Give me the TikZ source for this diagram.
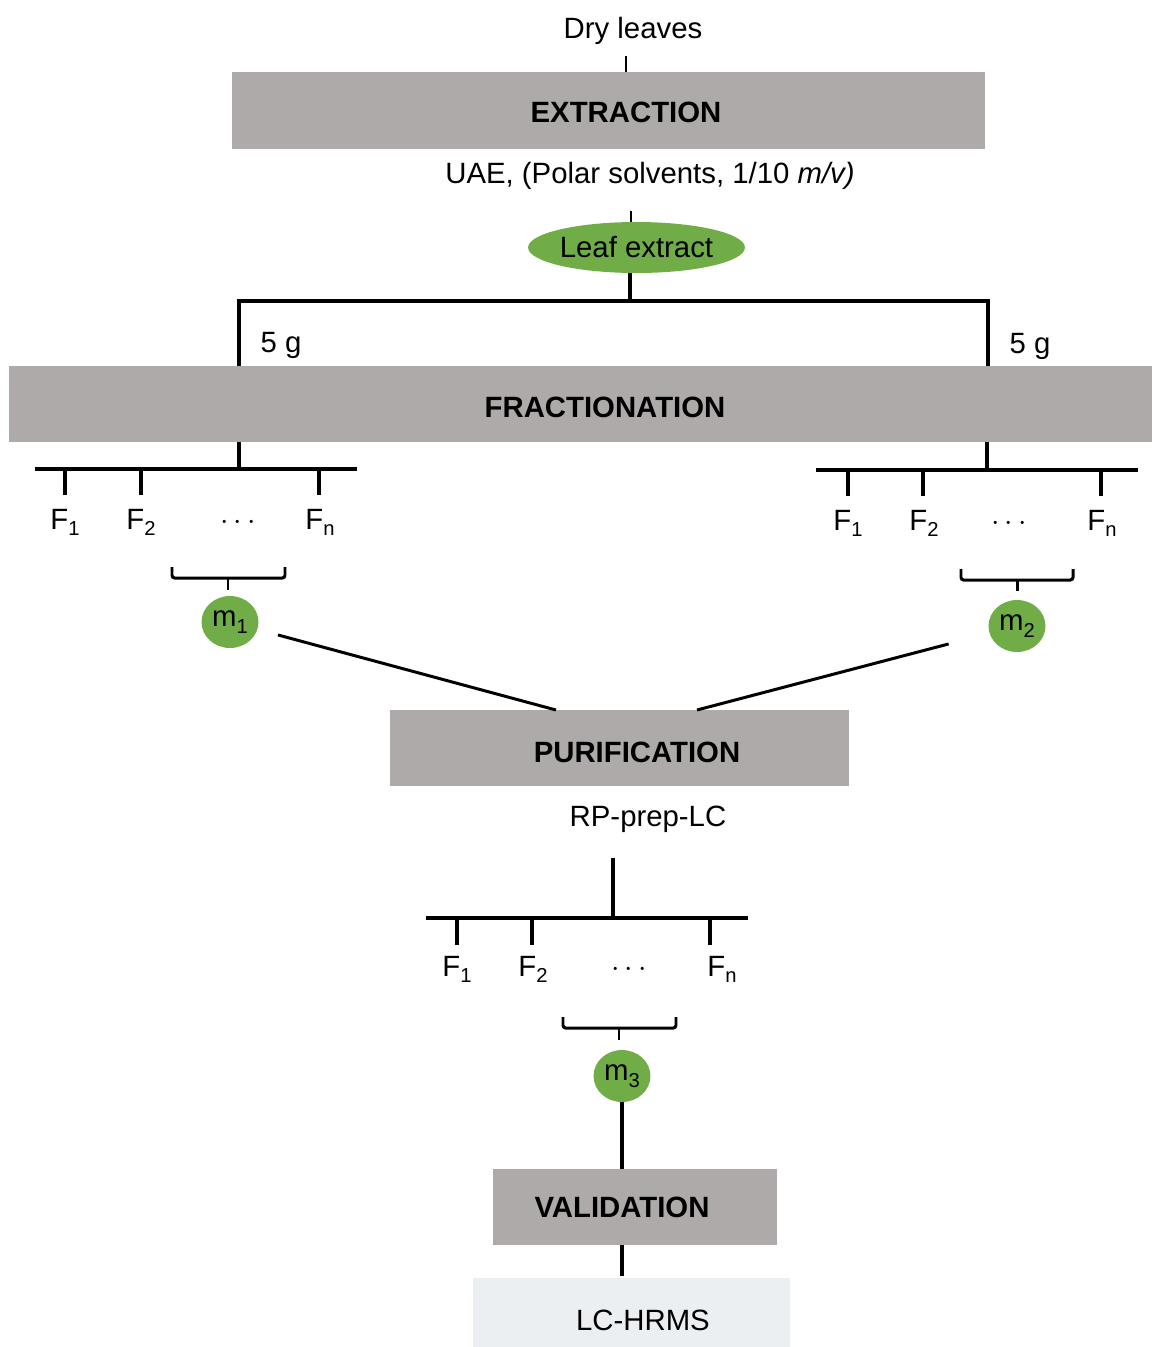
\documentclass[tikz,border=0pt]{standalone}
\usepackage{fontspec}
\setmainfont{Liberation Sans}
\usetikzlibrary{shapes.geometric}

\definecolor{boxgray}{HTML}{AEAAAA}
\definecolor{leafgreen}{HTML}{70AD47}
\definecolor{palegray}{HTML}{ECEFF2}
\newcommand\fsub[1]{\raisebox{-0.45ex}{\fontsize{11.5}{12}\selectfont #1}}

\begin{document}
\begin{tikzpicture}[x=0.02cm, y=-0.02cm,
    every node/.style={font=\fontsize{16.7}{20}\selectfont},
    stage/.style={fill=boxgray, inner sep=0pt, minimum height=1.52cm},
    blob/.style={ellipse, fill=leafgreen, inner sep=0pt, minimum width=1.14cm, minimum height=1.04cm},
    wire/.style={line width=2pt},
    thin wire/.style={line width=1.5pt},
    diag/.style={line width=1.7pt},
    bracket/.style={line width=1.7pt, rounded corners=1.5pt}]
    \useasboundingbox (0,0) rectangle (1152,1347);

    % extraction
    \node (dry) at (633,31) {Dry leaves};
    \node[stage, minimum width=15.06cm, minimum height=1.54cm] (ext) at (608.5,110.5) {};
    \node (extlbl) at (626,112) {\textbf{EXTRACTION}};
    \node (uae) at (650,176) {UAE, (Polar solvents, 1/10 \textit{m/v)}};
    \node[ellipse, fill=leafgreen, inner sep=0pt, minimum width=4.3cm, minimum height=1.02cm] (leaf) at (636.5,247.5) {Leaf extract};
    \coordinate (dryfoot) at (626,56);
    \coordinate (uaefoot) at (631,211);
    \draw[thin wire] (dryfoot) -- (dryfoot |- ext.north);
    \draw[thin wire] (uaefoot) -- (uaefoot |- leaf.north);

    % split in two
    \coordinate (hub0) at (630,301);
    \coordinate (splitL) at (239,301);
    \coordinate (splitR) at (988,301);
    \node[stage, minimum width=22.86cm] (frac) at (580.5,404) {};
    \node (fraclbl) at (605,407) {\textbf{FRACTIONATION}};
    \draw[wire] (leaf.south -| hub0) -- (hub0);
    \draw[wire] (splitL |- frac.north) -- (splitL) -- (splitR) -- (splitR |- frac.north);
    \node (gL) at (281,345) {5 g};
    \node (gR) at (1030,346) {5 g};

    % left fractions
    \coordinate (hubL) at (239,469);
    \draw[wire] (hubL |- frac.south) -- (hubL);
    \draw[wire] (hubL) ++(-204,0) -- ++(322,0);
    \foreach \x in {65,141,319}
        \draw[wire] (\x,469) -- ++(0,26);
    \node[anchor=base] (fL1) at (65,529) {F\fsub{1}};
    \node[anchor=base] (fL2) at (141,529) {F\fsub{2}};
    \node[anchor=base] (fLd) at (238,529) {$\cdots$};
    \node[anchor=base] (fLn) at (320,529) {F\fsub{n}};
    \coordinate (brL) at (228,578);
    \draw[bracket] (brL) ++(-56,-11) -- ++(0,11) -- ++(113,0) -- ++(0,-11);
    \draw[bracket] (brL) -- ++(0,12);
    \node[blob] (m1) at (230,622) {m\fsub{1}};

    % right fractions
    \coordinate (hubR) at (987,470);
    \draw[wire] (hubR |- frac.south) -- (hubR);
    \draw[wire] (hubR) ++(-171,0) -- ++(322,0);
    \foreach \x in {848,923,1101}
        \draw[wire] (\x,470) -- ++(0,26);
    \node[anchor=base] (fR1) at (848,530) {F\fsub{1}};
    \node[anchor=base] (fR2) at (924,530) {F\fsub{2}};
    \node[anchor=base] (fRd) at (1009,530) {$\cdots$};
    \node[anchor=base] (fRn) at (1102,530) {F\fsub{n}};
    \coordinate (brR) at (1017,580);
    \draw[bracket] (brR) ++(-56,-11) -- ++(0,11) -- ++(112,0) -- ++(0,-11);
    \draw[bracket] (brR) -- ++(0,11);
    \node[blob] (m2) at (1017,626) {m\fsub{2}};

    % purification
    \node[stage, minimum width=9.18cm] (pur) at (619.5,748) {};
    \node (purlbl) at (637,752) {\textbf{PURIFICATION}};
    \coordinate (pinL) at (556,710);
    \coordinate (pinR) at (697,710);
    \draw[diag, shorten <=0.42cm] (m1) -- (pinL);
    \draw[diag, shorten <=0.84cm] (m2) -- (pinR);
    \node (rp) at (648,819) {RP-prep-LC};

    % purified fractions
    \coordinate (rpfoot) at (613,858);
    \coordinate (hubP) at (613,918);
    \draw[wire] (rpfoot) -- (hubP);
    \draw[wire] (hubP) ++(-187,0) -- ++(322,0);
    \foreach \x in {457,532,710}
        \draw[wire] (\x,918) -- ++(0,27);
    \node[anchor=base] (fP1) at (457,976) {F\fsub{1}};
    \node[anchor=base] (fP2) at (533,976) {F\fsub{2}};
    \node[anchor=base] (fPd) at (629,976) {$\cdots$};
    \node[anchor=base] (fPn) at (722,976) {F\fsub{n}};
    \coordinate (brP) at (619,1028);
    \draw[bracket] (brP) ++(-56,-11) -- ++(0,11) -- ++(113,0) -- ++(0,-11);
    \draw[bracket] (brP) -- ++(0,12);
    \node[blob] (m3) at (622,1076) {m\fsub{3}};

    % validation
    \node[stage, minimum width=5.68cm] (val) at (635,1207) {};
    \node (vallbl) at (622,1207) {\textbf{VALIDATION}};
    \node[fill=palegray, inner sep=0pt, minimum width=6.34cm, minimum height=1.38cm] (lc) at (631.5,1312.5) {};
    \node (lclbl) at (643,1320) {LC-HRMS};
    \draw[wire] (m3.south) -- (m3 |- val.north);
    \draw[wire] (m3 |- val.south) -- ([yshift=1pt]m3 |- lc.north);
\end{tikzpicture}
\end{document}
